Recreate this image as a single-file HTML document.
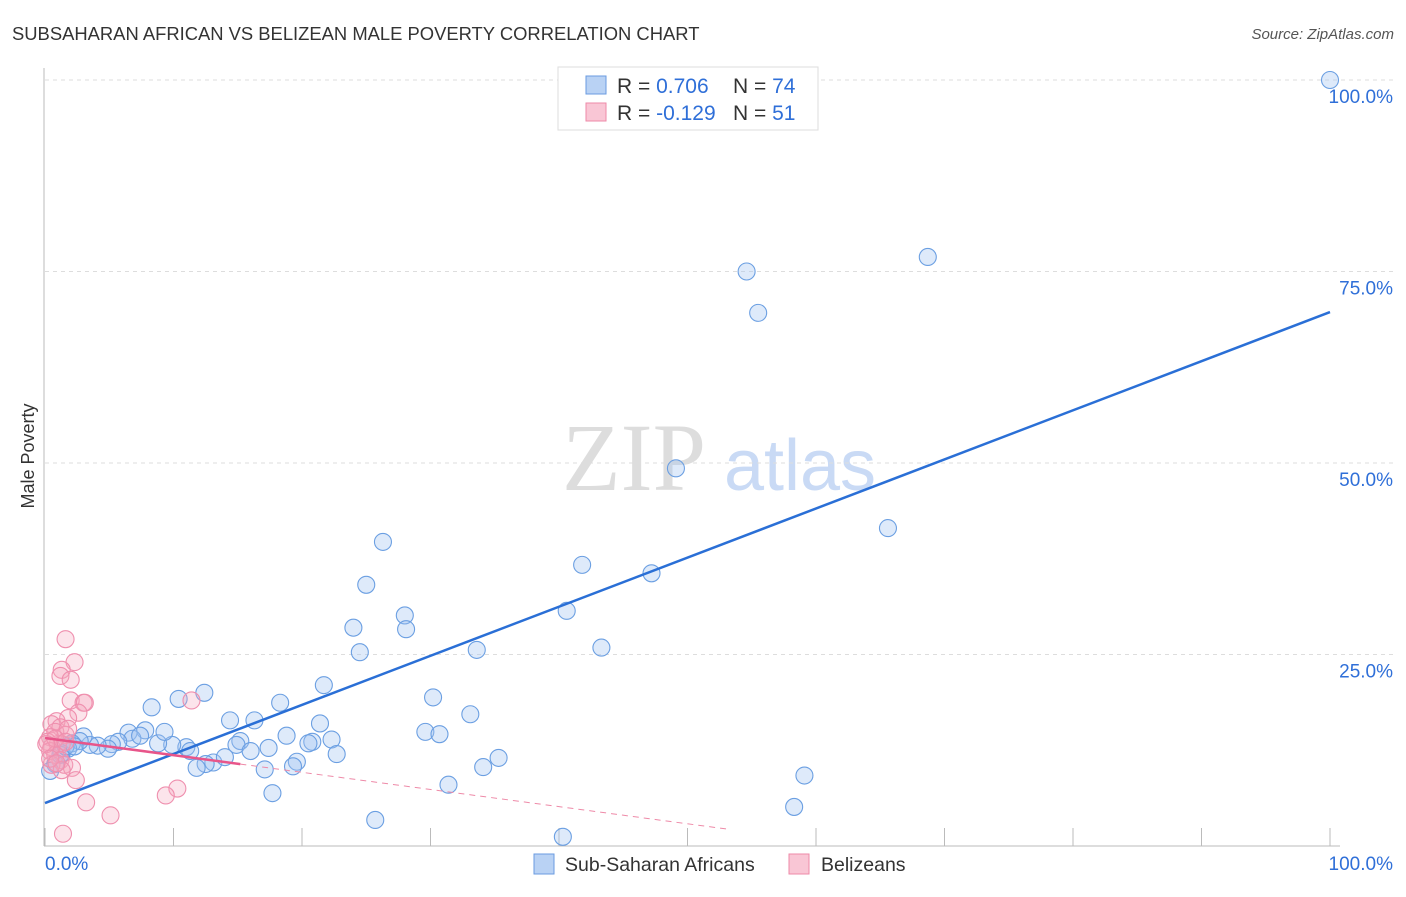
<!DOCTYPE html>
<html><head><meta charset="utf-8"><style>
body{margin:0;background:#fff;font-family:"Liberation Sans",sans-serif}
</style></head><body>
<svg width="1406" height="892" xmlns="http://www.w3.org/2000/svg" id="chart">
<text x="12" y="40" font-size="18.4" fill="#333">SUBSAHARAN AFRICAN VS BELIZEAN MALE POVERTY CORRELATION CHART</text>
<text x="1394" y="39" font-size="15" fill="#555" font-style="italic" text-anchor="end">Source: ZipAtlas.com</text>
<text x="634" y="490" font-size="96" fill="#ddd" font-family="Liberation Serif" text-anchor="middle">ZIP</text>
<text x="800" y="490" font-size="72" fill="#c9daf5" text-anchor="middle">atlas</text>
<text transform="translate(34,456) rotate(-90)" font-size="18" fill="#333" text-anchor="middle">Male Poverty</text>
<g id="grid"></g><g id="pts"></g><g id="lines"></g>
<g>
<rect x="558" y="67" width="260" height="63" fill="#fff" stroke="#ddd"/>
<rect x="586" y="76" width="20" height="18" fill="#b9d2f4" stroke="#6a9be0"/>
<rect x="586" y="103" width="20" height="18" fill="#f9c6d5" stroke="#ee8aa8"/>
<text x="617" y="93" font-size="21" fill="#333">R = <tspan fill="#2f6fd8">0.706</tspan><tspan x="733">N = </tspan><tspan fill="#2f6fd8">74</tspan></text>
<text x="617" y="120" font-size="21" fill="#333">R = <tspan fill="#2f6fd8">-0.129</tspan><tspan x="733">N = </tspan><tspan fill="#2f6fd8">51</tspan></text>
</g>
<g>
<rect x="534" y="854" width="20" height="20" fill="#b9d2f4" stroke="#6a9be0"/>
<text x="565" y="871" font-size="19.5" fill="#333">Sub-Saharan Africans</text>
<rect x="789" y="854" width="20" height="20" fill="#f9c6d5" stroke="#ee8aa8"/>
<text x="821" y="871" font-size="19.5" fill="#333">Belizeans</text>
</g>
</svg>
<script>
const yTicks=[25,50,75,100];
const yTickLabels=["25.0%","50.0%","75.0%","100.0%"];
const xTicks=[0,10,20,30,40,50,60,70,80,90,100];
const blueX=[100,68.7,54.6,55.5,49.1,65.6,26.3,41.8,47.2,25,40.6,28,28.1,24,43.3,24.5,33.6,21.7,30.2,12.4,10.4,8.3,18.3,33.1,21.4,14.4,16.3,29.6,30.7,18.8,20.8,20.5,22.3,15.2,14.9,17.4,16,22.7,35.3,34.1,13.1,12.5,11.8,14,17.1,19.6,19.3,11,11.3,9.9,8.8,9.3,7.8,6.5,6.8,7.4,5.7,5.2,4.9,4.1,3.5,3,2.7,2.1,1.8,1.3,0.8,0.4,1.2,59.1,31.4,17.7,58.3,25.7,40.3,1.6,2.3];
const blueY=[100,76.9,75,69.6,49.3,41.5,39.7,36.7,35.6,34.1,30.7,30.1,28.3,28.5,25.9,25.3,25.6,21,19.4,20,19.2,18.1,18.7,17.2,16,16.4,16.4,14.9,14.6,14.4,13.6,13.4,13.9,13.7,13.2,12.8,12.4,12,11.5,10.3,10.9,10.7,10.2,11.6,10,11,10.4,12.9,12.4,13.2,13.4,14.9,15.1,14.8,14,14.4,13.6,13.3,12.7,13.1,13.2,14.3,13.7,13.4,12.7,12.1,10.7,9.8,11.9,9.2,8,6.9,5.1,3.4,1.2,13,13];
const pinkX=[1.6,2.3,1.3,1.2,2,2,3,3.1,11.4,2.6,1.8,0.9,0.5,1.2,0.8,1.6,0.4,0.2,1,1.3,0.5,0.4,0.8,1.2,1.5,0.5,2.1,1.3,2.4,10.3,9.4,3.2,5.1,1.4,1.8,0.8,0.1,0.4,0.9,1.6];
const pinkY=[27,24,23,22.2,21.7,19,18.7,18.7,19,17.4,16.7,16.3,15.9,15.5,14.9,14.5,14.2,13.6,13.3,13.3,12.9,12.4,11.9,11.2,10.6,10.6,10.2,9.9,8.6,7.5,6.6,5.7,4,1.6,15.3,14,13.3,11.4,10.8,13.6];
const blueTrend=[5.6,69.7];
const pinkTrend=[14.1,-0.224,15.2,53.3]; // intercept, slope, solid end, dashed end
const X=v=>45+v*12.85, Y=v=>846-v*7.66;
const NS="http://www.w3.org/2000/svg";
function mk(t,a,p){const e=document.createElementNS(NS,t);for(const k in a)e.setAttribute(k,a[k]);document.getElementById(p).appendChild(e);return e;}
let e;
e=mk("line",{x1:44,y1:68,x2:44,y2:846,stroke:"#bbb"},"grid");


e=mk("line",{x1:44,y1:846,x2:1340,y2:846,stroke:"#bbb"},"grid");


yTicks.forEach((t,i)=>{
 e=mk("line",{x1:45,x2:1395,y1:Y(t),y2:Y(t),stroke:"#ddd","stroke-dasharray":"4,4"},"grid");
 
 
 e=mk("text",{x:1393,y:Y(t)+23,"font-size":19,fill:"#2f6fd8","text-anchor":"end"},"grid");
 e.textContent=yTickLabels[i];
 
 
});
xTicks.forEach(t=>{
 e=mk("line",{x1:X(t),x2:X(t),y1:828,y2:846,stroke:"#bbb"},"grid");
 
 
});
e=mk("text",{x:45,y:870,"font-size":19,fill:"#2f6fd8"},"grid");e.textContent="0.0%";


e=mk("text",{x:1393,y:870,"font-size":19,fill:"#2f6fd8","text-anchor":"end"},"grid");e.textContent="100.0%";


blueX.forEach((v,i)=>{
 e=mk("circle",{cx:X(v),cy:Y(blueY[i]),r:8.5,fill:"rgba(160,196,242,0.35)",stroke:"#6b9fe2","stroke-width":1.1},"pts");
 
 
});
pinkX.forEach((v,i)=>{
 e=mk("circle",{cx:X(v),cy:Y(pinkY[i]),r:8.5,fill:"rgba(245,165,190,0.3)",stroke:"#ef8fae","stroke-width":1.1},"pts");
 
 
});
e=mk("line",{x1:X(0),y1:Y(blueTrend[0]),x2:X(100),y2:Y(blueTrend[1]),stroke:"#2a6fd6","stroke-width":2.5},"lines");


const pf=x=>pinkTrend[0]+pinkTrend[1]*x;
e=mk("line",{x1:X(0),y1:Y(pf(0)),x2:X(pinkTrend[2]),y2:Y(pf(pinkTrend[2])),stroke:"#e8558a","stroke-width":2.5},"lines");


e=mk("line",{x1:X(pinkTrend[2]),y1:Y(pf(pinkTrend[2])),x2:X(pinkTrend[3]),y2:Y(pf(pinkTrend[3])),stroke:"#ee8aa8","stroke-width":1,"stroke-dasharray":"6,5"},"lines");


</script>
</body></html>
